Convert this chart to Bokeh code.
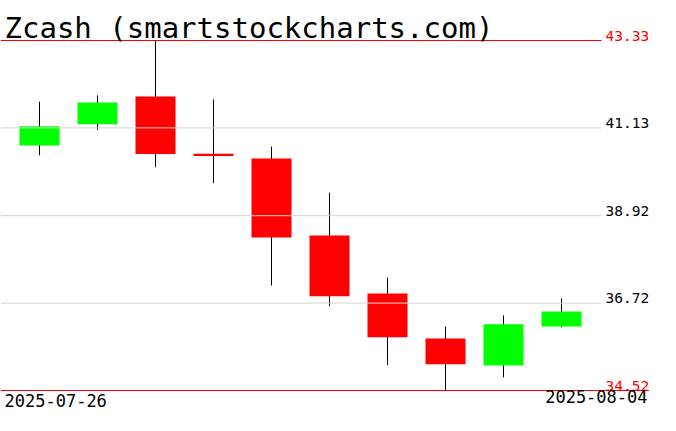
from bokeh.plotting import figure
from bokeh.models import ColumnDataSource, Range1d
from bokeh.core.properties import value
from bokeh.embed import file_html
from bokeh.resources import INLINE

# ---- data ----
title_text = "Zcash (smartstockcharts.com)"
dates = ["2025-07-26", "2025-07-27", "2025-07-28", "2025-07-29", "2025-07-30",
         "2025-07-31", "2025-08-01", "2025-08-02", "2025-08-03", "2025-08-04"]
opens = [40.69, 41.22, 41.92, 40.48, 40.36, 38.42, 36.96, 35.83, 35.15, 36.13]
highs = [41.79, 41.95, 43.33, 41.85, 40.66, 39.50, 37.36, 36.13, 36.41, 36.84]
lows = [40.44, 41.08, 40.14, 39.74, 37.16, 36.64, 35.16, 34.52, 34.85, 36.11]
closes = [41.17, 41.77, 40.47, 40.42, 38.37, 36.89, 35.86, 35.18, 36.19, 36.51]
tick_values = [43.33, 41.13, 38.92, 36.72, 34.52]
tick_labels = ["43.33", "41.13", "38.92", "36.72", "34.52"]

# ---- layout ----
W, H = 660, 415
FONT = value("DejaVu Sans Mono")
n = len(dates)
hi, lo = max(highs), min(lows)
slot_px = 58.0
first_px = 39.0           # centre of first candle from figure left
x_start = -first_px / slot_px
x_end = x_start + W / slot_px
top_px, bot_px = 40.0, 390.0
k = (hi - lo) / (bot_px - top_px)
y_end = hi + top_px * k
y_start = lo - (H - bot_px) * k
pad = 0.69
right_edge = (n - 1) + pad

p = figure(width=W, height=H, x_range=Range1d(x_start, x_end),
           y_range=Range1d(y_start, y_end), output_backend="svg",
           toolbar_location=None, x_axis_type=None, y_axis_type=None,
           min_border=0, min_border_left=0, min_border_right=0,
           min_border_top=0, min_border_bottom=0)
p.grid.visible = False
p.outline_line_color = None
p.background_fill_color = "white"
p.border_fill_color = "white"

xs = list(range(n))
colors = ["#00ff00" if c >= o else "#ff0000" for o, c in zip(opens, closes)]
src = ColumnDataSource(dict(x=xs, open=opens, high=highs, low=lows, close=closes,
                            top=[max(o, c) for o, c in zip(opens, closes)],
                            bottom=[min(o, c) for o, c in zip(opens, closes)],
                            color=colors))

p.segment(x0="x", y0="low", x1="x", y1="high", source=src, line_color="black", line_width=1)
p.vbar(x="x", width=40 / 58, top="top", bottom="bottom", source=src,
       fill_color="color", line_color=None)

# grid lines and extreme lines
mid_vals = tick_values[1:-1]
p.segment(x0=[x_start] * len(mid_vals), y0=mid_vals, x1=[right_edge] * len(mid_vals),
          y1=mid_vals, line_color="#d3d3d3", line_width=1)
p.segment(x0=[x_start, x_start], y0=[hi, lo], x1=[right_edge, right_edge + 0.82],
          y1=[hi, lo], line_color="#ff0000", line_width=1)

# right labels
lab_colors = ["#ff0000"] + ["black"] * (len(tick_labels) - 2) + ["#ff0000"]
p.text(x=[right_edge] * len(tick_labels), y=tick_values, text=tick_labels,
       text_color=lab_colors, text_font=FONT, text_font_size="14.5px",
       text_align="left", text_baseline="middle", x_offset=4, y_offset=-5)

# title
p.text(x=[x_start], y=[hi], text=[title_text], text_color="black", text_font=FONT,
       text_font_size="29px", text_align="left", text_baseline="middle",
       x_offset=4, y_offset=-13)

# date labels
p.text(x=[x_start], y=[lo], text=[dates[0]], text_color="black", text_font=FONT,
       text_font_size="17px", text_align="left", text_baseline="middle",
       x_offset=4, y_offset=10)
p.text(x=[right_edge], y=[lo], text=[dates[-1]], text_color="black", text_font=FONT,
       text_font_size="17px", text_align="right", text_baseline="middle",
       x_offset=46, y_offset=6)

open("out.html", "w").write(file_html(p, INLINE))
